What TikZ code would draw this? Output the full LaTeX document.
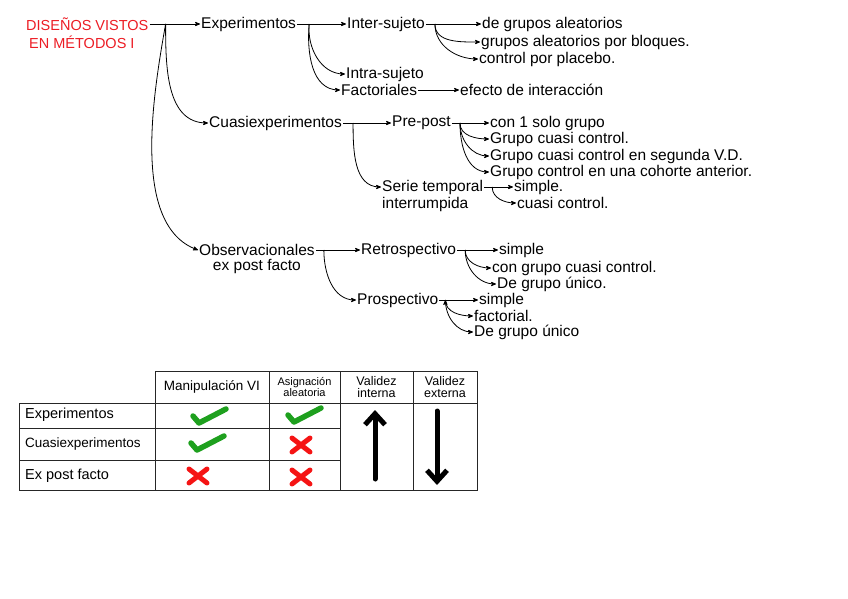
\documentclass[tikz,border=0pt]{standalone}
\usepackage{fontspec}
\setmainfont{Liberation Sans}
\usetikzlibrary{arrows}
\usetikzlibrary{arrows.meta}
\usetikzlibrary{positioning}
\usetikzlibrary{calc}
\definecolor{titlered}{RGB}{236,28,36}
\definecolor{tickgreen}{RGB}{30,160,30}
\definecolor{crossred}{RGB}{245,20,20}

\begin{document}
\begin{tikzpicture}[x=1pt,y=-1pt]
      \tikzset{
        >=stealth',
        every node/.style={inner sep=1pt},
        txt/.style={anchor=west, font=\fontsize{15.5}{17}\selectfont},
        hd/.style={align=center, font=\fontsize{12.5}{12.5}\selectfont},
        rowlbl/.style={anchor=west, font=\fontsize{14.5}{15}\selectfont},
        branch/.style={->, line width=0.8pt},
        grid/.style={line width=0.9pt, black!85},
        okmark/.pic={\draw[tickgreen, line width=5.5pt, line cap=round, line join=round]
          (-14,1) -- (-8,8) -- (19,-6);},
        nomark/.pic={\draw[crossred, line width=5pt, line cap=round]
          (-9,-7) -- (9,7) (-9,7) -- (9,-7);},
        bigarrow/.style={-{Straight Barb[length=11pt,width=20pt]}, line width=5pt, line cap=round},
      }
      \useasboundingbox (0,0) rectangle (848,599);

      % tree
      \node[txt, font=\fontsize{14.5}{16}\selectfont, text=titlered] (title) at (25,24) {DISEÑOS VISTOS};
      \node[txt, font=\fontsize{14.5}{16}\selectfont, text=titlered] (title2) at (28,42) {EN MÉTODOS I};
      \node[txt] (exp) at (200,24) {Experimentos};
      \node[txt] (inter) at (346,24) {Inter-sujeto};
      \node[txt] (dga) at (481,24) {de grupos aleatorios};
      \node[txt] (gab) at (480,42) {grupos aleatorios por bloques.};
      \node[txt] (cpp) at (478,59) {control por placebo.};
      \node[txt] (intra) at (345,74) {Intra-sujeto};
      \node[txt] (fact) at (340,90) {Factoriales};
      \node[txt] (efi) at (459,90) {efecto de interacción};
      \node[txt] (cuasi) at (208,123) {Cuasiexperimentos};
      \node[txt] (pre) at (391,123) {Pre-post};
      \node[txt] (c1) at (489,123) {con 1 solo grupo};
      \node[txt] (gcc) at (489,139) {Grupo cuasi control.};
      \node[txt] (gvd) at (489,156) {Grupo cuasi control en segunda V.D.};
      \node[txt] (gca) at (489,172) {Grupo control en una cohorte anterior.};
      \node[txt] (serie) at (381,187) {Serie temporal};
      \node[txt, below right=0.5pt and 0pt of serie.south west] (serie2) {interrumpida};
      \node[txt] (ss) at (513,187) {simple.};
      \node[txt] (scc) at (516,203) {cuasi control.};
      \node[txt] (obs) at (198,250) {Observacionales};
      \node[txt, below=1.5pt of obs] (obs2) {ex post facto};
      \node[txt] (retro) at (360,250) {Retrospectivo};
      \node[txt] (rs) at (498,250) {simple};
      \node[txt] (rcc) at (491,268) {con grupo cuasi control.};
      \node[txt] (rgu) at (496,284) {De grupo único.};
      \node[txt] (pros) at (356,300) {Prospectivo};
      \node[txt] (ps) at (478,300) {simple};
      \node[txt] (pf) at (473,316) {factorial.};
      \node[txt] (pgu) at (473,332) {De grupo único};

      \coordinate (b0) at ($(title.east)+(16,0)$);
      \coordinate (e1) at ($(exp.east)+(12,0)$);
      \coordinate (i1) at ($(inter.east)+(9,0)$);
      \coordinate (q1) at ($(cuasi.east)+(10,0)$);
      \coordinate (p1) at ($(pre.east)+(8,0)$);
      \coordinate (t1) at ($(serie.east)+(8,0)$);
      \coordinate (o1) at ($(obs.east)+(8,0)$);
      \coordinate (r1) at ($(retro.east)+(8,0)$);
      \coordinate (s1) at ($(pros.east)+(6,0)$);

      \draw[branch]
        (title.east) edge (exp.west)
        (b0) edge[out=-90, in=180] (cuasi.west)
        (b0) edge[out=-100, in=160, looseness=0.8] (obs.west)
        (exp.east) edge (inter.west)
        (e1) edge[out=-95, in=180] (intra.west)
        (e1) edge[out=-95, in=180] (fact.west)
        (inter.east) edge (dga.west)
        (i1) edge[out=-90, in=180] (gab.west)
        (i1) edge[out=-90, in=180] (cpp.west)
        (fact.east) edge (efi.west)
        (cuasi.east) edge (pre.west)
        (q1) edge[out=-90, in=180] (serie.west)
        (pre.east) edge (c1.west)
        (p1) edge[out=-90, in=180] (gcc.west)
        (p1) edge[out=-90, in=180] (gvd.west)
        (p1) edge[out=-90, in=180] (gca.west)
        (serie.east) edge (ss.west)
        (t1) edge[out=-90, in=180] (scc.west)
        (obs.east) edge (retro.west)
        (o1) edge[out=-90, in=180] (pros.west)
        (retro.east) edge (rs.west)
        (r1) edge[out=-90, in=180] (rcc.west)
        (r1) edge[out=-90, in=180] (rgu.west)
        (pros.east) edge (ps.west)
        (s1) edge[out=-90, in=180] (pf.west)
        (s1) edge[out=-90, in=180] (pgu.west);

      % table
      \draw[grid] (155,371) rectangle (477,490);
      \draw[grid] (19,403) rectangle (155,490);
      \draw[grid] (155,403) -- (477,403);
      \draw[grid] (19,428) -- (340,428) (19,460) -- (340,460);
      \draw[grid] (269,371) -- (269,490) (340,371) -- (340,490) (413,371) -- (413,490);

      \node[hd, font=\fontsize{13.5}{14}\selectfont] (manip) at (212,387) {Manipulación VI};
      \node[hd, font=\fontsize{11}{11}\selectfont] (asig) at (304.5,387) {Asignación\\aleatoria};
      \node[hd] (vint) at (376.5,387) {Validez\\interna};
      \node[hd] (vext) at (445,387) {Validez\\externa};
      \node[rowlbl] (rexp) at (24,415) {Experimentos};
      \node[rowlbl, font=\fontsize{13.5}{14}\selectfont] (rcuasi) at (24,444) {Cuasiexperimentos};
      \node[rowlbl] (rexpost) at (24,476) {Ex post facto};

      \pic at (207,415) {okmark};
      \pic at (205,442) {okmark};
      \pic at (302,414) {okmark};
      \pic at (198,476) {nomark};
      \pic at (301,445) {nomark};
      \pic at (301,477) {nomark};

      \coordinate (vint-lo) at (375,479);
      \coordinate (vint-hi) at (375,410);
      \coordinate (vext-hi) at (437,411);
      \coordinate (vext-lo) at (437,485);
      \draw[bigarrow] (vint-lo) -- (vint-hi);
      \draw[bigarrow] (vext-hi) -- (vext-lo);
    \end{tikzpicture}
\end{document}
